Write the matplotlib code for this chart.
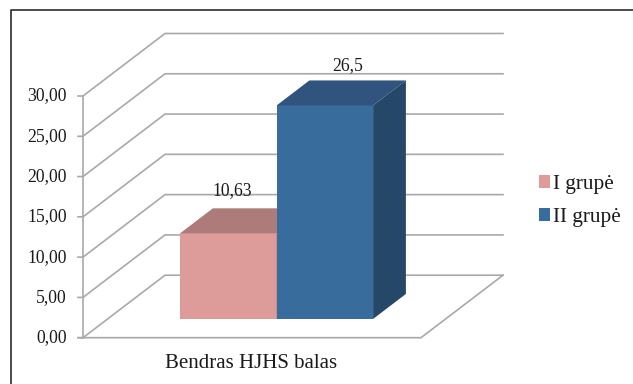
import matplotlib
matplotlib.use("Agg")
import matplotlib.pyplot as plt
from matplotlib.patches import Patch, Polygon

plt.rcParams["font.family"] = ["Liberation Serif", "DejaVu Serif"]

category = "Bendras HJHS balas"
groups = ["I grupė", "II grupė"]
values = [10.63, 26.5]
value_labels = ["10,63", "26,5"]
ticks = [0, 5, 10, 15, 20, 25, 30]
tick_labels = ["0,00", "5,00", "10,00", "15,00", "20,00", "25,00", "30,00"]

FRONT = ["#DD9C9A", "#386C9C"]
TOP = ["#AD7B79", "#30547E"]
SIDE = ["#AD7B79", "#264868"]
GRID = "#A9A9A9"
TEXT = "#1A1A1A"

# oblique projection: depth 0..1 shifts x and value by these amounts
X0, X1 = 83.0, 421.0
DEPTH_X = 82.0
PX_PER_UNIT = 8.057
DEPTH_Y = 62.5 / PX_PER_UNIT
BAR_D0, BAR_D1 = 0.3, 0.7
BAR_LEFT = 155.5
BAR_W = 96.5
LABEL_SHIFT = [-29, -10]
LABEL_LIFT = [2.2, 1.85]


def proj(x, v, d=0.0):
    return (x + d * DEPTH_X, v + d * DEPTH_Y)


fig = plt.figure(figsize=(6.33, 3.84), dpi=100)
ax = fig.add_axes([0, 0, 1, 1])
ax.set_xlim(0, 633)
ax.set_ylim(-(384 - 337.7) / PX_PER_UNIT, 337.7 / PX_PER_UNIT)
ax.axis("off")

# outer frame, cut off by the image edge on the right and at the bottom
ymin, ymax = ax.get_ylim()
frame_top = ymax - 10.3 / PX_PER_UNIT
ax.plot([10.5, 10.5, 633], [ymin, frame_top, frame_top], color="#2B2B2B", lw=1.2, zorder=1)

# gridlines on the side and back walls
for t, label in zip(ticks, tick_labels):
    xs, ys = zip(proj(X0 - 5, t), proj(X0, t), proj(X0, t, 1), proj(X1, t, 1))
    ax.plot(xs, ys, color=GRID, lw=1.2, zorder=2, solid_joinstyle="miter")
    ax.text(X0 - 16, t, label, ha="right", va="center", fontsize=12.7, color=TEXT)

# front edge of the value axis and the floor
ax.plot(*zip(proj(X0, 0), proj(X0, ticks[-1])), color=GRID, lw=1.2, zorder=2)
ax.plot(*zip(proj(X0 - 5, 0), proj(X1, 0), proj(X1, 0, 1)), color=GRID, lw=1.2, zorder=2)

# 3D bars, left to right so the taller one covers the neighbour's side
for i, v in enumerate(values):
    x0 = BAR_LEFT + i * BAR_W
    x1 = x0 + BAR_W
    ax.add_patch(Polygon([proj(x0, 0, BAR_D0), proj(x1, 0, BAR_D0), proj(x1, v, BAR_D0), proj(x0, v, BAR_D0)],
                         fc=FRONT[i], ec="none", zorder=3 + i))
    ax.add_patch(Polygon([proj(x0, v, BAR_D0), proj(x1, v, BAR_D0), proj(x1, v, BAR_D1), proj(x0, v, BAR_D1)],
                         fc=TOP[i], ec="none", zorder=3 + i))
    ax.add_patch(Polygon([proj(x1, 0, BAR_D0), proj(x1, 0, BAR_D1), proj(x1, v, BAR_D1), proj(x1, v, BAR_D0)],
                         fc=SIDE[i], ec="none", zorder=3 + i))
    lx, ly = proj(x0 + BAR_W / 2, v, BAR_D1)
    ax.text(lx + LABEL_SHIFT[i], ly + LABEL_LIFT[i], value_labels[i], ha="center", va="center",
            fontsize=12.7, color=TEXT, zorder=6)

ax.text(251.5, proj(X0, -3.2)[1], category, ha="center", va="center",
        fontsize=15, color=TEXT)

handles = [Patch(fc=c, ec="none") for c in FRONT]
ax.legend(handles, groups, loc="center left", bbox_to_anchor=(539 / 633, 1 - 201 / 384),
          frameon=False, fontsize=15.3, labelcolor=TEXT, handlelength=0.52, handleheight=0.52,
          handletextpad=0.14, labelspacing=0.65, borderpad=0, borderaxespad=0)

fig.savefig("out.png", dpi=100)
